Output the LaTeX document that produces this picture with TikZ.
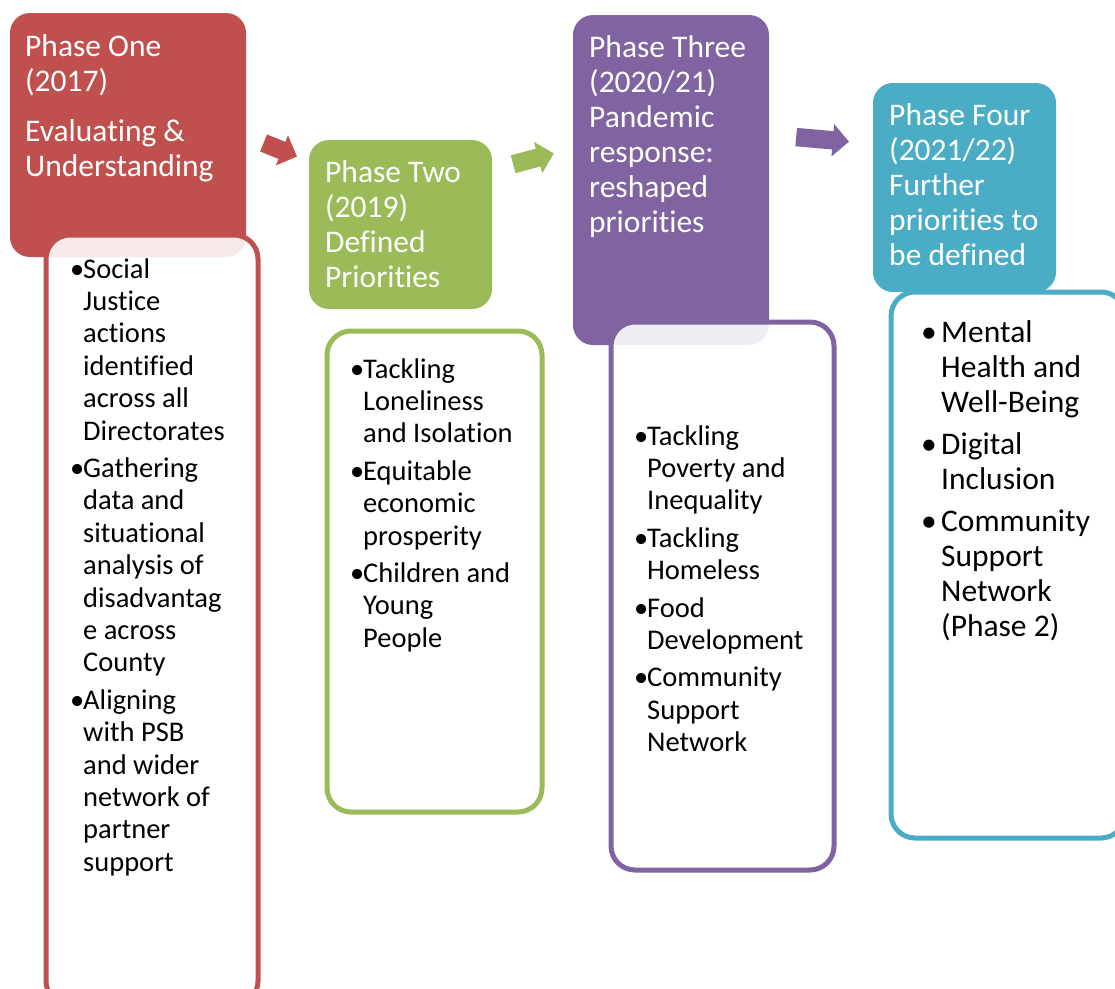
\documentclass[tikz,border=0pt]{standalone}
\usepackage{fontspec}
\setmainfont{Carlito}[Ligatures=NoCommon]
\usetikzlibrary{shapes.arrows}
\definecolor{phaseRed}{HTML}{C0504D}
\definecolor{phaseGreen}{HTML}{9BBB59}
\definecolor{phasePurple}{HTML}{8064A2}
\definecolor{phaseTeal}{HTML}{4BACC6}
\newcommand{\bul}{\makebox[8pt][l]{\hspace*{-5pt}•}}
\newcommand{\ind}{\hspace*{8pt}}
\newcommand{\bulw}{\makebox[20pt][l]{•}}
\newcommand{\indw}{\hspace*{20pt}}
\newcommand{\lines}[1]{\begin{tabular}[t]{@{}l@{}}#1\end{tabular}}
\tikzset{
  header/.style={fill=#1, draw=none, rounded corners=20pt, inner sep=0pt},
  listbox/.style={draw=#1, line width=5pt, fill=white, fill opacity=0.88, rounded corners=24pt, inner sep=0pt},
  headtext/.style={text=white, anchor=base west, inner sep=0pt, font=\fontsize{31.5}{35}\selectfont},
  listtext/.style={text=black, anchor=base west, inner sep=0pt, font=\fontsize{28.5}{32.4}\selectfont},
  blockarrow/.style={fill=#1, draw=none, shape=single arrow, inner xsep=0pt, inner ysep=9pt, single arrow head extend=7pt, single arrow head indent=0pt}
}
\begin{document}
\begin{tikzpicture}[x=1pt, y=-1pt]
  \useasboundingbox (0,0) rectangle (1115,988);
  \clip (0,0) rectangle (1115,988);
  % phase one
  \node[header=phaseRed, minimum width=236pt, minimum height=244pt] (head1) at (128,135) {};
  \node[listbox=phaseRed, minimum width=212pt, minimum height=770pt] (list1) at (152,620) {};
  \node[headtext] (title1) at (25,56) {\lines{Phase One\\(2017)\\[15pt]Evaluating \&\\Understanding}};
  \node[listtext] (items1) at (75,278) {\lines{\bul Social\\ \ind Justice\\ \ind actions\\ \ind identified\\ \ind across all\\ \ind Directorates\\[5pt]
    \bul Gathering\\ \ind data and\\ \ind situational\\ \ind analysis of\\ \ind disadvantag\\ \ind e across\\ \ind County\\[5pt]
    \bul Aligning\\ \ind with PSB\\ \ind and wider\\ \ind network of\\ \ind partner\\ \ind support}};
  % phase two
  \node[header=phaseGreen, minimum width=183pt, minimum height=169pt] (head2) at (400.5,224.5) {};
  \node[listbox=phaseGreen, minimum width=215pt, minimum height=481pt] (list2) at (434.5,571.5) {};
  \node[headtext] (title2) at (325,182) {\lines{Phase Two\\(2019)\\Defined\\Priorities}};
  \node[listtext] (items2) at (355,378) {\lines{\bul Tackling\\ \ind Loneliness\\ \ind and Isolation\\[5pt]
    \bul Equitable\\ \ind economic\\ \ind prosperity\\[5pt]
    \bul Children and\\ \ind Young\\ \ind People}};
  % phase three
  \node[header=phasePurple, minimum width=196pt, minimum height=330pt] (head3) at (671,180) {};
  \node[listbox=phasePurple, minimum width=223pt, minimum height=548pt] (list3) at (722.5,596) {};
  \node[headtext] (title3) at (589,57) {\lines{Phase Three\\(2020/21)\\Pandemic\\response:\\reshaped\\priorities}};
  \node[listtext] (items3) at (639,445) {\lines{\bul Tackling\\ \ind Poverty and\\ \ind Inequality\\[5pt]
    \bul Tackling\\ \ind Homeless\\[5pt]
    \bul Food\\ \ind Development\\[5pt]
    \bul Community\\ \ind Support\\ \ind Network}};
  % phase four
  \node[header=phaseTeal, minimum width=183pt, minimum height=209pt] (head4) at (964.5,187.5) {};
  \node[listbox=phaseTeal, minimum width=234pt, minimum height=546pt] (list4) at (1008,565) {};
  \node[headtext] (title4) at (889,125) {\lines{Phase Four\\(2021/22)\\Further\\priorities to\\be defined}};
  \node[listtext, font=\fontsize{31.5}{35}\selectfont] (items4) at (921,342) {\lines{\bulw Mental\\ \indw Health and\\ \indw Well-Being\\[7pt]
    \bulw Digital\\ \indw Inclusion\\[7pt]
    \bulw Community\\ \indw Support\\ \indw Network\\ \indw (Phase 2)}};
  % arrows
  \node[blockarrow=phaseRed, minimum height=36pt, rotate=-22] (arrow12) at (276,148) {};
  \node[blockarrow=phaseGreen, minimum height=42pt, rotate=15] (arrow23) at (529,160) {};
  \node[blockarrow=phasePurple, minimum height=53pt, rotate=-5] (arrow34) at (818,139) {};
\end{tikzpicture}
\end{document}
